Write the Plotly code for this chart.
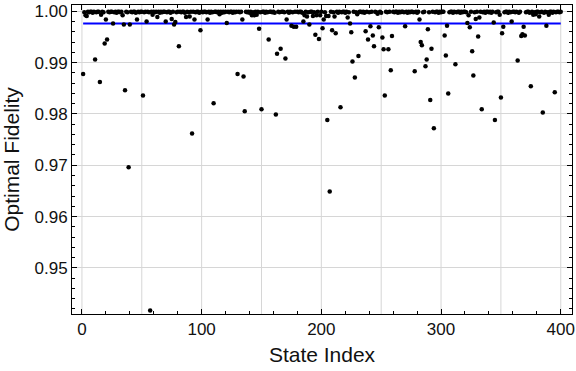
import plotly.graph_objects as go

# optimal fidelity per state (states 1..400)
fidelity = [
    0.9878, 0.9998, 0.9992, 0.9991, 0.9999, 0.9998, 0.9999, 0.9999, 0.9997, 0.9999,
    0.9906, 0.9998, 0.9999, 0.9999, 0.9862, 0.9993, 0.9999, 0.9998, 0.9937, 0.9984,
    0.9945, 0.9999, 0.9998, 0.9999, 0.9999, 0.9976, 0.9998, 0.9999, 0.9997, 0.9999,
    0.9999, 0.9998, 0.9999, 0.9992, 0.9974, 0.9846, 0.9999, 0.9998, 0.9696, 0.9974,
    0.9999, 0.9998, 0.9999, 0.9999, 0.9997, 0.9984, 0.9999, 0.9998, 0.9999, 0.9999,
    0.9836, 0.9998, 0.9999, 0.9980, 0.9999, 0.9998, 0.9417, 0.9999, 0.9993, 0.9999,
    0.9998, 0.9999, 0.9989, 0.9999, 0.9997, 0.9999, 0.9998, 0.9999, 0.9999, 0.9980,
    0.9998, 0.9999, 0.9999, 0.9997, 0.9985, 0.9999, 0.9974, 0.9979, 0.9998, 0.9999,
    0.9932, 0.9999, 0.9998, 0.9999, 0.9999, 0.9997, 0.9989, 0.9999, 0.9998, 0.9990,
    0.9999, 0.9762, 0.9999, 0.9984, 0.9998, 0.9999, 0.9999, 0.9997, 0.9963, 0.9999,
    0.9998, 0.9999, 0.9999, 0.9998, 0.9984, 0.9999, 0.9997, 0.9999, 0.9998, 0.9821,
    0.9999, 0.9999, 0.9998, 0.9999, 0.9994, 0.9999, 0.9997, 0.9999, 0.9998, 0.9999,
    0.9977, 0.9999, 0.9998, 0.9999, 0.9999, 0.9997, 0.9999, 0.9998, 0.9999, 0.9878,
    0.9999, 0.9998, 0.9999, 0.9984, 0.9873, 0.9805, 0.9999, 0.9998, 0.9999, 0.9997,
    0.9999, 0.9992, 0.9998, 0.9992, 0.9999, 0.9993, 0.9999, 0.9966, 0.9998, 0.9809,
    0.9999, 0.9999, 0.9997, 0.9999, 0.9998, 0.9945, 0.9999, 0.9999, 0.9998, 0.9999,
    0.9997, 0.9799, 0.9917, 0.9999, 0.9998, 0.9927, 0.9999, 0.9999, 0.9998, 0.9908,
    0.9984, 0.9999, 0.9997, 0.9999, 0.9972, 0.9998, 0.9970, 0.9999, 0.9970, 0.9999,
    0.9998, 0.9999, 0.9999, 0.9997, 0.9980, 0.9992, 0.9999, 0.9990, 0.9998, 0.9974,
    0.9999, 0.9999, 0.9991, 0.9998, 0.9954, 0.9992, 0.9999, 0.9946, 0.9992, 0.9999,
    0.9967, 0.9984, 0.9998, 0.9991, 0.9788, 0.9991, 0.9649, 0.9999, 0.9963, 0.9998,
    0.9990, 0.9957, 0.9999, 0.9997, 0.9999, 0.9813, 0.9998, 0.9999, 0.9999, 0.9997,
    0.9999, 0.9988, 0.9998, 0.9976, 0.9959, 0.9902, 0.9999, 0.9871, 0.9998, 0.9994,
    0.9913, 0.9999, 0.9999, 0.9998, 0.9999, 0.9997, 0.9961, 0.9999, 0.9945, 0.9998,
    0.9971, 0.9999, 0.9953, 0.9932, 0.9999, 0.9998, 0.9995, 0.9969, 0.9999, 0.9997,
    0.9949, 0.9926, 0.9836, 0.9999, 0.9998, 0.9926, 0.9999, 0.9885, 0.9952, 0.9999,
    0.9998, 0.9999, 0.9999, 0.9997, 0.9999, 0.9998, 0.9999, 0.9999, 0.9998, 0.9971,
    0.9999, 0.9997, 0.9999, 0.9998, 0.9999, 0.9999, 0.9998, 0.9883, 0.9999, 0.9997,
    0.9999, 0.9984, 0.9940, 0.9934, 0.9998, 0.9999, 0.9893, 0.9906, 0.9965, 0.9998,
    0.9827, 0.9927, 0.9999, 0.9772, 0.9998, 0.9999, 0.9999, 0.9997, 0.9999, 0.9998,
    0.9999, 0.9999, 0.9953, 0.9914, 0.9972, 0.9840, 0.9998, 0.9999, 0.9999, 0.9997,
    0.9999, 0.9897, 0.9998, 0.9999, 0.9999, 0.9997, 0.9999, 0.9998, 0.9999, 0.9999,
    0.9998, 0.9977, 0.9992, 0.9969, 0.9999, 0.9922, 0.9875, 0.9998, 0.9985, 0.9999,
    0.9951, 0.9988, 0.9999, 0.9809, 0.9998, 0.9999, 0.9997, 0.9999, 0.9999, 0.9998,
    0.9999, 0.9997, 0.9999, 0.9978, 0.9788, 0.9998, 0.9999, 0.9999, 0.9993, 0.9832,
    0.9957, 0.9970, 0.9998, 0.9999, 0.9999, 0.9997, 0.9999, 0.9998, 0.9980, 0.9999,
    0.9999, 0.9998, 0.9999, 0.9904, 0.9997, 0.9999, 0.9952, 0.9955, 0.9970, 0.9953,
    0.9998, 0.9999, 0.9999, 0.9997, 0.9854, 0.9999, 0.9993, 0.9998, 0.9994, 0.9999,
    0.9999, 0.9990, 0.9998, 0.9999, 0.9803, 0.9997, 0.9999, 0.9972, 0.9998, 0.9993,
    0.9999, 0.9999, 0.9997, 0.9999, 0.9842, 0.9998, 0.9999, 0.9999, 0.9998, 0.9999,
]
state_index = list(range(1, len(fidelity) + 1))

mean_fidelity = 0.99763  # blue reference line
x_ticks = [0, 100, 200, 300, 400]
x_grid = [0, 50, 100, 150, 200, 250, 300, 350, 400]

fig = go.Figure()

# mean line, drawn across the index range
fig.add_trace(go.Scatter(
    x=[state_index[0], state_index[-1]],
    y=[mean_fidelity, mean_fidelity],
    mode="lines",
    line=dict(color="#0000ff", width=2),
    hoverinfo="skip",
))

fig.add_trace(go.Scatter(
    x=state_index, y=fidelity,
    mode="markers",
    marker=dict(color="black", size=4.5),
))

for g in x_grid:
    fig.add_vline(x=g, line=dict(color="#d6d6d6", width=1), layer="below")

tick_font = dict(family="Liberation Sans, Arial", size=17, color="#111")
title_font = dict(family="Liberation Sans, Arial", size=21, color="#111")

fig.update_xaxes(
    range=[-8.3, 409.4],
    tickvals=x_ticks,
    ticks="inside", ticklen=5, tickcolor="black", tickwidth=1,
    minor=dict(dtick=20, tick0=0, ticks="inside", ticklen=3, tickcolor="black", showgrid=False),
    showgrid=False, zeroline=False,
    showline=True, linecolor="black", linewidth=1, mirror="ticks",
    tickfont=tick_font, automargin=False,
    title=dict(text="State Index", font=title_font, standoff=8),
)
fig.update_yaxes(
    range=[0.94102, 1.00122],
    tick0=0.95, dtick=0.01, tickformat=".2f",
    ticks="inside", ticklen=5, tickcolor="black", tickwidth=1,
    minor=dict(dtick=0.002, tick0=0.94, ticks="inside", ticklen=3, tickcolor="black", showgrid=False),
    showgrid=True, gridcolor="#d6d6d6", gridwidth=1, zeroline=False,
    showline=True, linecolor="black", linewidth=1, mirror="ticks",
    tickfont=tick_font, automargin=False,
    title=dict(text="Optimal Fidelity", font=title_font, standoff=10),
)

fig.update_layout(
    width=576, height=371,
    margin=dict(l=72, r=4, t=5, b=57),
    plot_bgcolor="white", paper_bgcolor="white",
    showlegend=False,
)

# drop the browser's default page margin so the figure sits at the window corner
fig.write_html(
    "out.html",
    config={"displayModeBar": False},
    post_script="document.body.style.margin='0';",
)
